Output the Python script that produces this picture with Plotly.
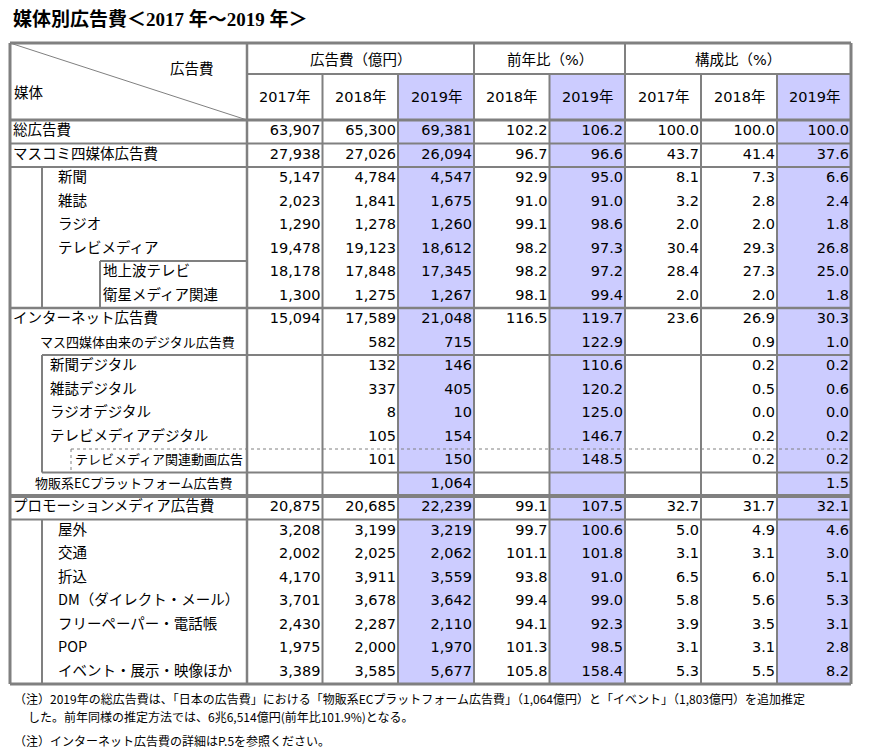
import plotly.graph_objects as go

# ---------------- data ----------------
title_text = "媒体別広告費＜2017 年～2019 年＞"
labels = ["総広告費", "マスコミ四媒体広告費", "新聞", "雑誌", "ラジオ", "テレビメディア",
          "地上波テレビ", "衛星メディア関連", "インターネット広告費",
          "マス四媒体由来のデジタル広告費", "新聞デジタル", "雑誌デジタル", "ラジオデジタル",
          "テレビメディアデジタル", "テレビメディア関連動画広告", "物販系ECプラットフォーム広告費",
          "プロモーションメディア広告費", "屋外", "交通", "折込", "DM（ダイレクト・メール）",
          "フリーペーパー・電話帳", "POP", "イベント・展示・映像ほか"]
spend_2017 = [63907, 27938, 5147, 2023, 1290, 19478, 18178, 1300, 15094,
              None, None, None, None, None, None, None,
              20875, 3208, 2002, 4170, 3701, 2430, 1975, 3389]
spend_2018 = [65300, 27026, 4784, 1841, 1278, 19123, 17848, 1275, 17589,
              582, 132, 337, 8, 105, 101, None,
              20685, 3199, 2025, 3911, 3678, 2287, 2000, 3585]
spend_2019 = [69381, 26094, 4547, 1675, 1260, 18612, 17345, 1267, 21048,
              715, 146, 405, 10, 154, 150, 1064,
              22239, 3219, 2062, 3559, 3642, 2110, 1970, 5677]
yoy_2018 = [102.2, 96.7, 92.9, 91.0, 99.1, 98.2, 98.2, 98.1, 116.5,
            None, None, None, None, None, None, None,
            99.1, 99.7, 101.1, 93.8, 99.4, 94.1, 101.3, 105.8]
yoy_2019 = [106.2, 96.6, 95.0, 91.0, 98.6, 97.3, 97.2, 99.4, 119.7,
            122.9, 110.6, 120.2, 125.0, 146.7, 148.5, None,
            107.5, 100.6, 101.8, 91.0, 99.0, 92.3, 98.5, 158.4]
share_2017 = [100.0, 43.7, 8.1, 3.2, 2.0, 30.4, 28.4, 2.0, 23.6,
              None, None, None, None, None, None, None,
              32.7, 5.0, 3.1, 6.5, 5.8, 3.9, 3.1, 5.3]
share_2018 = [100.0, 41.4, 7.3, 2.8, 2.0, 29.3, 27.3, 2.0, 26.9,
              0.9, 0.2, 0.5, 0.0, 0.2, 0.2, None,
              31.7, 4.9, 3.1, 6.0, 5.6, 3.5, 3.1, 5.5]
share_2019 = [100.0, 37.6, 6.6, 2.4, 1.8, 26.8, 25.0, 1.8, 30.3,
              1.0, 0.2, 0.6, 0.0, 0.2, 0.2, 1.5,
              32.1, 4.6, 3.0, 5.1, 5.3, 3.1, 2.8, 8.2]
group_headers = ["広告費（億円）", "前年比（%）", "構成比（%）"]
year_headers = ["2017年", "2018年", "2019年", "2018年", "2019年", "2017年", "2018年", "2019年"]
corner_top = "広告費"
corner_bottom = "媒体"
notes = ["（注）2019年の総広告費は、「日本の広告費」における「物販系ECプラットフォーム広告費」（1,064億円）と「イベント」（1,803億円）を追加推定",
         "した。前年同様の推定方法では、6兆6,514億円(前年比101.9%)となる。",
         "（注）インターネット広告費の詳細はP.5を参照ください。"]

# ---------------- layout config ----------------
W, H = 877, 754
PAGE_MARGIN = 8  # default body margin of the html page
GRID = "#808080"
SHADE = "#CCCCFF"
FONT = "DejaVu Sans, Noto Sans CJK JP"
LABEL_FONT = "Noto Sans CJK JP, DejaVu Sans"
FS = 14.5
left = 10
col_edges = [247, 322.5, 398, 474, 549.5, 625, 701, 777, 851]
shaded_cols = [2, 4, 7]
h_top, h_mid, h_bot = 43, 74, 120
row_h = 23.5
n = len(labels)
row_top = [h_bot + i * row_h for i in range(n)]
row_mid = [t + row_h / 2 for t in row_top]
bottom = h_bot + n * row_h
# label indents and sizes per row (layout only)
label_x = [13, 13, 58, 58, 58, 58, 103, 103, 13, 40, 50, 50, 50, 50, 75, 35,
           13, 58, 58, 58, 58, 58, 58, 58]
label_fs = [FS] * n
for i in (9, 14, 15):
    label_fs[i] = 13

columns = [spend_2017, spend_2018, spend_2019, yoy_2018, yoy_2019,
           share_2017, share_2018, share_2019]
formats = ["{:,}", "{:,}", "{:,}", "{:.1f}", "{:.1f}", "{:.1f}", "{:.1f}", "{:.1f}"]

fig = go.Figure()
shapes = []

# shading of 2019 columns
for c in shaded_cols:
    shapes.append(dict(type="rect", x0=col_edges[c], x1=col_edges[c + 1], y0=h_mid, y1=bottom,
                       fillcolor=SHADE, line=dict(width=0), layer="below"))


def hline(y, x0, x1, w=2, dash=None):
    ln = dict(color=GRID, width=w)
    if dash:
        ln["dash"] = dash
    shapes.append(dict(type="line", x0=x0, x1=x1, y0=y, y1=y, line=ln))


def vline(x, y0, y1, w=2, dash=None):
    ln = dict(color=GRID, width=w)
    if dash:
        ln["dash"] = dash
    shapes.append(dict(type="line", x0=x, x1=x, y0=y0, y1=y1, line=ln))


R = col_edges[-1]
# horizontal lines
hline(h_top, left, R, 3)
hline(h_mid, col_edges[0], R, 2)
hline(h_bot, left, R, 3)
hline(row_top[1], left, R)
hline(row_top[2], left, R)
hline(row_top[6], 100, col_edges[0])
hline(row_top[8], left, R, 2.5)
hline(row_top[10], 42, R)
hline(row_top[14], 71, R, 1, "dot")
hline(row_top[15], 42, R)
hline(row_top[16], left, R, 4)
hline(row_top[17], left, R)
hline(bottom, left, R, 3)

# vertical lines
vline(left, h_top, bottom, 3)
vline(R, h_top, bottom, 3)
vline(col_edges[0], h_top, bottom, 2.5)
for k in range(1, len(col_edges) - 1):
    top = h_top if k in (3, 5) else h_mid
    vline(col_edges[k], top, bottom, 2)
vline(42, row_top[2], row_top[8])
vline(100, row_top[6], row_top[8])
vline(42, row_top[10], row_top[15])
vline(71, row_top[14], row_top[15], 1, "dot")
vline(42, row_top[17], bottom)

# diagonal in corner cell
shapes.append(dict(type="line", x0=left, y0=h_top, x1=col_edges[0], y1=h_bot,
                   line=dict(color=GRID, width=1)))

# labels
fig.add_trace(go.Scatter(x=label_x, y=row_mid, mode="text", text=labels,
                         textposition="middle right",
                         textfont=dict(family=LABEL_FONT, size=label_fs, color="#000"),
                         hoverinfo="skip", showlegend=False))

# values
for j, (vals, fmt) in enumerate(zip(columns, formats)):
    txt = ["" if v is None else fmt.format(v) for v in vals]
    xr = [col_edges[j + 1] - 2] * n
    fig.add_trace(go.Scatter(x=xr, y=row_mid, mode="text", text=txt,
                             textposition="middle left",
                             textfont=dict(family=FONT, size=FS, color="#000"),
                             hoverinfo="skip", showlegend=False))

annotations = []
# group headers
spans = [(0, 3), (3, 5), (5, 8)]
for g, (a, b) in zip(group_headers, spans):
    annotations.append(dict(x=(col_edges[a] + col_edges[b]) / 2, y=(h_top + h_mid) / 2 + 1,
                            text=g, showarrow=False, xanchor="center", yanchor="middle",
                            font=dict(family=FONT, size=FS, color="#000")))
for j, t in enumerate(year_headers):
    annotations.append(dict(x=(col_edges[j] + col_edges[j + 1]) / 2, y=(h_mid + h_bot) / 2,
                            text=t, showarrow=False, xanchor="center", yanchor="middle",
                            font=dict(family=FONT, size=FS, color="#000")))
annotations.append(dict(x=216, y=69, text=corner_top, showarrow=False, xanchor="right",
                        yanchor="middle", font=dict(family=FONT, size=FS, color="#000")))
annotations.append(dict(x=12, y=93, text=corner_bottom, showarrow=False, xanchor="left",
                        yanchor="middle", font=dict(family=FONT, size=FS, color="#000")))
# title
annotations.append(dict(x=11, y=19, text="<b>" + title_text + "</b>", showarrow=False,
                        xanchor="left", yanchor="middle",
                        font=dict(family="Liberation Serif, Noto Sans CJK JP", size=19, color="#000")))
# notes
note_pos = [(12, 698), (26, 716), (12, 740)]
for t, (nx, ny) in zip(notes, note_pos):
    annotations.append(dict(x=nx, y=ny, text=t, showarrow=False, xanchor="left", yanchor="middle",
                            font=dict(family="Noto Sans CJK JP", size=12, color="#000")))

fig.update_layout(
    width=W - PAGE_MARGIN, height=H - PAGE_MARGIN, margin=dict(l=0, r=0, t=0, b=0),
    paper_bgcolor="white", plot_bgcolor="white",
    xaxis=dict(range=[PAGE_MARGIN, W], visible=False, fixedrange=True),
    yaxis=dict(range=[H, PAGE_MARGIN], visible=False, fixedrange=True),
    shapes=shapes, annotations=annotations, showlegend=False,
)
fig.write_html("out.html")
